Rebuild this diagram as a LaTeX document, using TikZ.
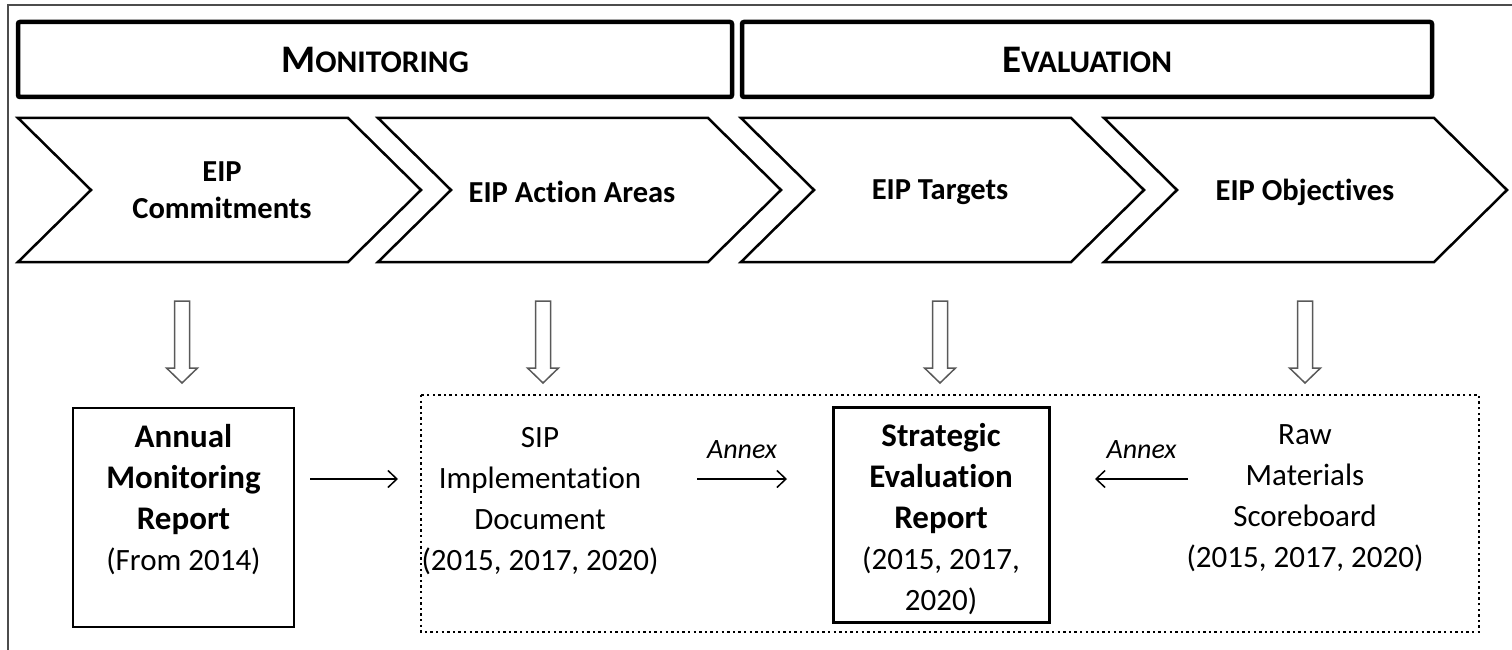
\documentclass[tikz,border=0pt]{standalone}
\usepackage{fontspec}
\setmainfont[Ligatures={NoCommon}]{Carlito}
\usetikzlibrary{arrows.meta,calc}
\newcommand{\bl}[1]{{\fontsize{33}{41}\selectfont\bfseries #1}}
\begin{document}
\begin{tikzpicture}[x=1pt,y=-1pt,
  header/.style={draw, line width=4.5pt, rounded corners=2pt, minimum width=#1, minimum height=75pt, inner sep=0pt, outer sep=0pt},
  chev/.style={draw, line width=2.5pt, line join=miter},
  chevtext/.style={font=\fontsize{30.5}{37}\selectfont\bfseries, align=center},
  body/.style={font=\fontsize{31}{41}\selectfont, align=center, inner sep=0pt},
  boxed/.style={draw, line width=2pt, inner sep=0pt, outer sep=0pt},
  hollow/.style={draw=black!65, line width=1.5pt, fill=white, line join=miter},
  arr/.style={line width=1.5pt, -{Straight Barb[length=9pt,width=17pt,line width=1.5pt]}},
  annex/.style={font=\fontsize{28}{30}\selectfont\itshape, inner sep=0pt}
]
\useasboundingbox (0,0) rectangle (1512,650);
% outer frame (partial)
\draw[black!70, line width=2pt] (8,650) -- (8,5) -- (1512,5);

% headers
\node[header=714pt] (mon) at (375,59.5) {\bfseries{\fontsize{39}{39}\selectfont M}{\fontsize{31.5}{31.5}\selectfont ONITORING}};
\node[header=690pt] (eva) at (1087,59.5) {\bfseries{\fontsize{39}{39}\selectfont E}{\fontsize{31.5}{31.5}\selectfont VALUATION}};

% chevrons
\foreach \L/\n in {18/1, 378/2, 741/3, 1104/4}{
  \draw[chev] (\L,118) -- (\L+330,118) -- (\L+403,190) -- (\L+330,262) -- (\L,262) -- (\L+73,190) -- cycle;
}
\node[chevtext] (c1) at (222,190) {EIP\\Commitments};
\node[chevtext] (c2) at (572,192) {EIP Action Areas};
\node[chevtext] (c3) at (940,192) {EIP Targets};
\node[chevtext] (c4) at (1305,192) {EIP Objectives};

% hollow block arrows
\foreach \X in {182, 543, 940, 1305}{
  \draw[hollow] (\X-7.5,301) -- (\X+7.5,301) -- (\X+7.5,368) -- (\X+15.5,368) -- (\X,383) -- (\X-15.5,368) -- (\X-7.5,368) -- cycle;
}

% dotted group
\draw[line width=2.2pt, dash pattern=on 2.4pt off 3.2pt] (421,395) rectangle (1479,632);

% Annual monitoring report
\node[boxed, minimum width=221pt, minimum height=219pt] (amrbox) at (183.5,517.5) {};
\node[body] (amr) at (183.5,500) {\bl{Annual}\\\bl{Monitoring}\\\bl{Report}\\(From 2014)};

% SIP
\node[body] (sip) at (540,501.5) {SIP\\Implementation\\Document\\(2015, 2017, 2020)};

% Strategic Evaluation Report
\node[boxed, line width=3pt, minimum width=216pt, minimum height=215pt, body] (ser) at (941,514.5) {};
\node[body] (sert) at (941,519) {\bl{Strategic}\\\bl{Evaluation}\\\bl{Report}\\(2015, 2017,\\2020)};

% Raw materials
\node[body] (raw) at (1305,498) {Raw\\Materials\\Scoreboard\\(2015, 2017, 2020)};

% connectors
\draw[arr] ($(amrbox.north east)+(16,71)$) -- ($(amrbox.north east)+(104,71)$);
\draw[arr] ($(ser.north west)+(-136,72)$) -- ($(ser.north west)+(-46,72)$) node[annex, midway, above=20pt] (an1) {Annex};
\draw[arr] ($(ser.north east)+(139,72)$) -- ($(ser.north east)+(46,72)$) node[annex, midway, above=20pt] (an2) {Annex};
\end{tikzpicture}
\end{document}
